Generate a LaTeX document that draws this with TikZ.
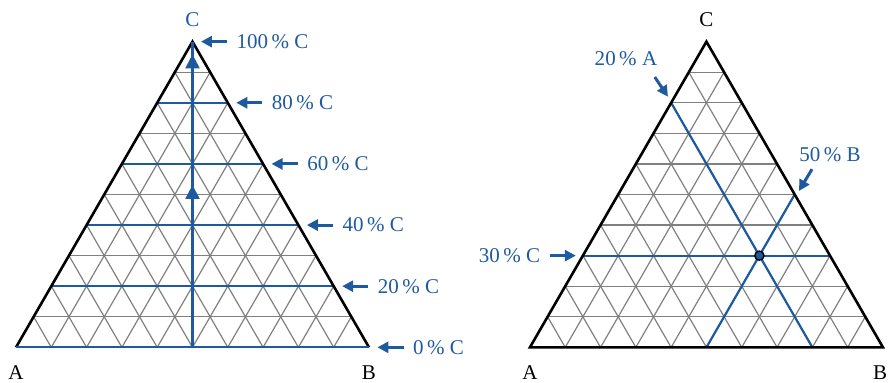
\documentclass[tikz,border=0pt]{standalone}
\usepackage{fontspec}
\setmainfont{Liberation Serif}
\usetikzlibrary{arrows.meta}
\definecolor{tblue}{RGB}{30,90,160}
\tikzset{
  gridline/.style={gray,line width=0.6pt},
  rim/.style={black,line width=1.3pt},
  bline/.style={tblue,line width=1.1pt},
  harr/.style={tblue,line width=1.5pt,-{Triangle[length=5.5pt,width=5.5pt]}},
  varr/.style={tblue,line width=1.1pt,-{Triangle[length=7pt,width=7pt]}},
  pct/.style={text=tblue,font=\fontsize{10.5}{12}\selectfont,inner xsep=4.6pt,inner ysep=1pt},
  vtx/.style={font=\fontsize{10.5}{12}\selectfont,inner sep=0pt},
  dot/.style={circle,fill=tblue,draw=black,line width=0.7pt,inner sep=0pt,minimum size=4.6pt}
}
\begin{document}
\begin{tikzpicture}[x=0.62cm,y=0.62cm]
\useasboundingbox (-0.453,-1.006) rectangle (24.76,9.84);
% grey grid in both triangles
\foreach \sx in {0,14.56}{
  \begin{scope}[shift={(\sx,0)}]
    \foreach \i in {1,...,9}{
      \draw[gridline] (0.5*\i,0.866*\i) -- (10-0.5*\i,0.866*\i);
      \draw[gridline] (\i,0) -- (5+0.5*\i,8.66-0.866*\i);
      \draw[gridline] (\i,0) -- (0.5*\i,0.866*\i);
    }
  \end{scope}
}
% left triangle
\foreach \k in {2,4,6,8}
  \draw[bline] (0.5*\k,0.866*\k) -- (10-0.5*\k,0.866*\k);
\draw[rim] (0,0) -- (5,8.66) -- (10,0);
\draw[bline] (0,0) -- (10,0);
\draw[bline] (5,0) -- (5,8.66);
\draw[varr] (5,0) -- (5,4.6);
\draw[varr] (5,4.6) -- (5,8.3);
\node[vtx] (lA) at (0,-0.72) {A};
\node[vtx] (lB) at (10,-0.72) {B};
\node[vtx,text=tblue] (lC) at (5,9.28) {C};
\foreach \k in {0,2,...,10}{
  \pgfmathsetmacro\yy{0.866*\k}
  \pgfmathsetmacro\xt{10-0.5*\k+0.24}
  \pgfmathtruncatemacro\pp{10*\k}
  \coordinate (tip\k) at (\xt,\yy);
  \node[pct,anchor=west] (pc\k) at (\xt+0.74,\yy) {\pp\,\% C};
  \draw[harr] (pc\k.west) -- (tip\k);
}
% right triangle
\begin{scope}[shift={(14.56,0)}]
  \draw[bline] (1.5,2.598) -- (8.5,2.598);
  \draw[bline] (4,6.928) -- (8,0);
  \draw[bline] (5,0) -- (7.5,4.33);
  \draw[rim] (0,0) -- (10,0) -- (5,8.66) -- cycle;
  \node[dot] (pt) at (6.5,2.598) {};
  \node[vtx] (rA) at (0,-0.72) {A};
  \node[vtx] (rB) at (9.92,-0.72) {B};
  \node[vtx] (rC) at (5,9.28) {C};
  \coordinate (tipC) at (1.30,2.598);
  \node[pct,anchor=east] (pcC) at (0.56,2.598) {30\,\% C};
  \draw[harr] (pcC.east) -- (tipC);
  \coordinate (tipA) at (3.91,7.10);
  \node[pct,inner sep=0pt] (pcA) at (2.72,8.17) {20\,\% A};
  \draw[harr] ([shift={(-0.08,-0.3)}]pcA.south east) -- (tipA);
  \coordinate (tipB) at (7.62,4.43);
  \node[pct,inner sep=0pt] (pcB) at (8.50,5.45) {50\,\% B};
  \draw[harr] ([shift={(0.37,-0.19)}]pcB.south west) -- (tipB);
\end{scope}
\end{tikzpicture}
\end{document}
